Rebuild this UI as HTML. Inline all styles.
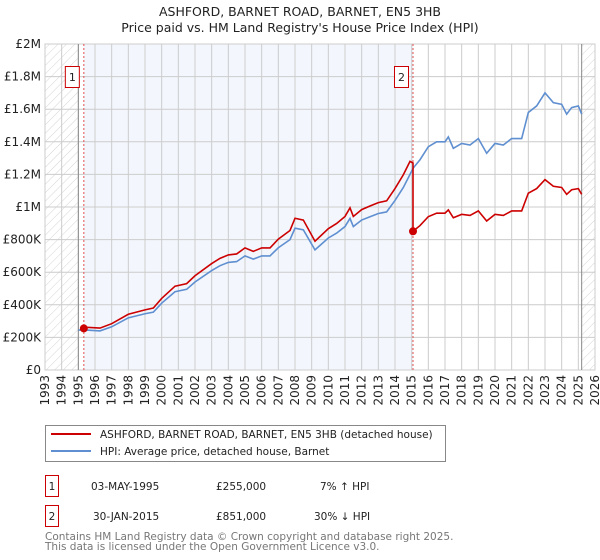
<!DOCTYPE html>
<html><head><meta charset="utf-8"><style>
body{margin:0;background:#fff;font-family:"DejaVu Sans","Liberation Sans",sans-serif}
svg{display:block}
</style></head><body>
<svg id="c" width="600" height="560" xmlns="http://www.w3.org/2000/svg">
<defs>
<pattern id="hatch" width="6" height="6" patternUnits="userSpaceOnUse" patternTransform="rotate(45)">
<line x1="0" y1="0" x2="0" y2="6" stroke="#d4d4d4" stroke-width="1"/></pattern>
</defs>
<text x="300" y="16" text-anchor="middle" font-size="12.5" fill="#222">ASHFORD, BARNET ROAD, BARNET, EN5 3HB</text>
<text x="300" y="32" text-anchor="middle" font-size="12.5" fill="#222">Price paid vs. HM Land Registry's House Price Index (HPI)</text>
<g id="plot"></g>
<g>
<rect x="45.5" y="425.5" width="400" height="36" fill="#fff" stroke="#888"/>
<line x1="51" y1="434" x2="91" y2="434" stroke="#cc0000" stroke-width="2"/>
<text x="100" y="438" font-size="10.5" fill="#222">ASHFORD, BARNET ROAD, BARNET, EN5 3HB (detached house)</text>
<line x1="51" y1="451" x2="91" y2="451" stroke="#5f8fd0" stroke-width="2"/>
<text x="100" y="455" font-size="10.5" fill="#222">HPI: Average price, detached house, Barnet</text>
</g>
<g font-size="10.5" fill="#222">
<rect x="45.5" y="475.5" width="13" height="21" fill="#fff" stroke="#cc0000"/>
<text x="52" y="490" text-anchor="middle">1</text>
<text x="91" y="490">03-MAY-1995</text><text x="216" y="490">£255,000</text><text x="320" y="490">7% ↑ HPI</text>
<rect x="45.5" y="505.5" width="13" height="21" fill="#fff" stroke="#cc0000"/>
<text x="52" y="520" text-anchor="middle">2</text>
<text x="93" y="520">30-JAN-2015</text><text x="216" y="520">£851,000</text><text x="314" y="520">30% ↓ HPI</text>
</g>
<text font-size="10.5" fill="#777"><tspan x="45" y="540">Contains HM Land Registry data © Crown copyright and database right 2025.</tspan><tspan x="45" y="550">This data is licensed under the Open Government Licence v3.0.</tspan></text>
</svg>
<script>
const hpiYears=[1995.0,1995.5,1996.3,1997,1998,1999,1999.5,2000,2000.8,2001.5,2002,2003,2003.5,2004,2004.5,2005,2005.5,2006,2006.5,2007,2007.7,2008.0,2008.5,2009.2,2010,2010.5,2011,2011.3,2011.5,2012,2012.5,2013,2013.5,2014,2014.5,2014.9,2015.1,2015.5,2016,2016.5,2017,2017.2,2017.5,2018,2018.5,2019,2019.5,2020,2020.5,2021,2021.6,2022,2022.5,2023,2023.5,2024,2024.3,2024.6,2025.0,2025.2];
const hpiValues=[245,245,240,265,320,345,355,410,480,495,540,610,640,660,665,700,680,700,700,750,800,870,860,737,810,840,880,930,880,920,940,960,970,1040,1120,1200,1240,1290,1370,1400,1400,1430,1360,1390,1380,1420,1330,1390,1380,1420,1420,1580,1620,1700,1640,1630,1570,1610,1620,1570];
const priceYears=[1995.33,1995.5,1996.3,1997,1998,1999,1999.5,2000,2000.8,2001.5,2002,2003,2003.5,2004,2004.5,2005,2005.5,2006,2006.5,2007,2007.7,2008.0,2008.5,2009.2,2010,2010.5,2011,2011.3,2011.5,2012,2012.5,2013,2013.5,2014,2014.5,2014.9,2015.08,2015.08,2015.5,2016,2016.5,2017,2017.2,2017.5,2018,2018.5,2019,2019.5,2020,2020.5,2021,2021.6,2022,2022.5,2023,2023.5,2024,2024.3,2024.6,2025.0,2025.2];
const priceValues=[255,262,257,284,342,369,380,439,514,530,578,653,685,706,712,749,728,749,749,803,856,931,920,790,867,899,942,995,942,984,1006,1027,1038,1113,1198,1280,1270,851,886,941,962,962,982,934,955,948,976,914,955,948,976,976,1085,1113,1168,1127,1120,1078,1106,1113,1078];
const saleYears=[1995.33,2015.08];
const saleValues=[255,851];
const saleLabels=["1","2"];
const yTicks=[0,200,400,600,800,1000,1200,1400,1600,1800,2000];
const yTickLabels=["£0","£200K","£400K","£600K","£800K","£1M","£1.2M","£1.4M","£1.6M","£1.8M","£2M"];
const xTicks=[1993,1994,1995,1996,1997,1998,1999,2000,2001,2002,2003,2004,2005,2006,2007,2008,2009,2010,2011,2012,2013,2014,2015,2016,2017,2018,2019,2020,2021,2022,2023,2024,2025,2026];

const L=45,R=595,T=44,B=370;
const X=y=>L+(y-1993)/(2026-1993)*(R-L);
const Y=v=>B-v/2000*(B-T);
const NS="http://www.w3.org/2000/svg";
const g=document.getElementById('plot');
function mk(t,a,p){const e=document.createElementNS(NS,t);for(const k in a)e.setAttribute(k,a[k]);(p||g).appendChild(e);return e;}

let e=mk('rect',{x:X(1995.33),y:T,width:X(2015.08)-X(1995.33),height:B-T,fill:'#eef3fc',opacity:0.7});


e=mk('rect',{x:L,y:T,width:X(1995)-L,height:B-T,fill:'url(#hatch)'});


e=mk('rect',{x:X(2025.2),y:T,width:R-X(2025.2),height:B-T,fill:'url(#hatch)'});



yTicks.forEach((v,i)=>{
  mk('line',{x1:L,x2:R,y1:Y(v),y2:Y(v),stroke:'#ccc','stroke-width':1});
  const t=mk('text',{x:L-4,y:Y(v)+4,'text-anchor':'end','font-size':12,fill:'#222'});
  t.textContent=yTickLabels[i];
  
  
});
xTicks.forEach(yr=>{
  mk('line',{x1:X(yr),x2:X(yr),y1:T,y2:B,stroke:'#ccc','stroke-width':1});
  const t=mk('text',{x:0,y:0,'text-anchor':'end','font-size':12,fill:'#222',transform:`translate(${X(yr)+4},${B+5}) rotate(-90)`});
  t.textContent=yr;
  
  
});
mk('rect',{x:L,y:T,width:R-L,height:B-T,fill:'none',stroke:'#ccc'});
mk('line',{x1:X(1995),x2:X(1995),y1:T,y2:B,stroke:'#888'});
mk('line',{x1:X(2025.2),x2:X(2025.2),y1:T,y2:B,stroke:'#888'});

saleYears.forEach((yr,i)=>{
  e=mk('line',{x1:X(yr),x2:X(yr),y1:T,y2:B,stroke:'#e05050','stroke-width':1,'stroke-dasharray':'2,2'});
  
  
});

e=mk('polyline',{points:hpiYears.map((y,i)=>X(y)+','+Y(hpiValues[i])).join(' '),fill:'none',stroke:'#5f8fd0','stroke-width':1.6});


e=mk('polyline',{points:priceYears.map((y,i)=>X(y)+','+Y(priceValues[i])).join(' '),fill:'none',stroke:'#cc0000','stroke-width':1.6});



saleYears.forEach((yr,i)=>{
  e=mk('circle',{cx:X(yr),cy:Y(saleValues[i]),r:4,fill:'#cc0000'});
  
  
  const bx=X(yr)-19;
  e=mk('rect',{x:bx+0.5,y:T+22.5,width:14,height:21,fill:'#fff',stroke:'#cc0000'});
  
  
  const t=mk('text',{x:bx+7.5,y:T+37,'text-anchor':'middle','font-size':11,fill:'#222'});
  t.textContent=saleLabels[i];
  
  
});
</script>
</body></html>
